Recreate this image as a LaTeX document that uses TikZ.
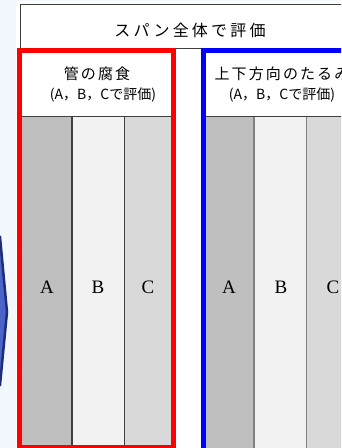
\documentclass[tikz,border=0pt]{standalone}
\usepackage{fontspec}
\newfontfamily\jptop[LetterSpace=20]{Noto Sans CJK JP}
\newfontfamily\jptitle[LetterSpace=14]{Noto Sans CJK JP}
\newfontfamily\jpsub{Noto Sans CJK JP}
\newfontfamily\latinserif{Liberation Serif}
\definecolor{bgblue}{HTML}{F3F8FE}
\definecolor{colA}{HTML}{BFBFBF}
\definecolor{colB}{HTML}{F2F2F2}
\definecolor{colC}{HTML}{D9D9D9}
\definecolor{frame}{HTML}{404040}
\definecolor{chevfill}{HTML}{4A64C8}
\definecolor{chevedge}{HTML}{1F2C78}
\tikzset{
  colbox/.style={rectangle, draw=none, inner sep=0pt, anchor=north west, minimum height=332pt},
  letter/.style={font=\latinserif\fontsize{19}{19}\selectfont, inner sep=0pt},
  toptext/.style={font=\jptop\fontsize{16}{16}\selectfont, inner sep=0pt},
  titletext/.style={font=\jptitle\fontsize{15}{15}\selectfont, inner sep=0pt},
  subtext/.style={font=\jpsub\fontsize{14}{14}\selectfont, inner sep=0pt},
  sepline/.style={line width=1.2pt},
}
\begin{document}
\begin{tikzpicture}[x=1pt,y=-1pt]
\useasboundingbox (0,0) rectangle (341,448);
\clip (0,0) rectangle (341,448);
% background
\fill[bgblue] (0,0) rectangle (341,448);
\fill[white] (16,1) rectangle (345,450);
% chevron tip at the left
\draw[fill=chevfill, draw=chevedge, line width=2.5pt, line join=miter]
  (-20,225) -- (0,237) -- (7,312) -- (0,385) -- (-20,397) -- cycle;
% outer box
\draw[frame, line width=1pt] (20,48) -- (20,4) -- (350,4);
\draw[frame, line width=1pt] (20,48) -- (350,48);
\node[toptext] (top) at (190,30) {スパン全体で評価};
% ---------- red group ----------
\fill[white] (19.5,50) rectangle (173,447);
\node[colbox, fill=colA, minimum width=49.5pt] (rA) at (22,116) {};
\node[colbox, fill=colB, minimum width=52pt] (rB) at (rA.north east) {};
\node[colbox, fill=colC, minimum width=48pt] (rC) at (rB.north east) {};
\draw[frame, sepline] (rA.north east) -- (rA.south east);
\draw[frame, sepline] (rB.north east) -- (rB.south east);
\draw[frame, line width=1pt] (rA.north west) -- (rC.north east);
\node[letter] (ra) at (47,287) {A};
\node[letter] (rb) at (98,287) {B};
\node[letter] (rc) at (148,287) {C};
\node[titletext] (rt1) at (97,74) {管の腐食};
\node[subtext] (rt2) at (103,95) {(A，B，Cで評価)};
\draw[red, line width=5pt] (19.5,50) rectangle (173,447);
% ---------- blue group ----------
\fill[white] (203,50.5) rectangle (362,452);
\node[colbox, fill=colA, minimum width=48pt, minimum height=340pt] (bA) at (205.5,116) {};
\node[colbox, fill=colB, minimum width=52.5pt, minimum height=340pt] (bB) at (bA.north east) {};
\node[colbox, fill=colC, minimum width=52pt, minimum height=340pt] (bC) at (bB.north east) {};
\draw[gray, sepline] (bA.north east) -- (bA.south east);
\draw[gray, sepline] (bB.north east) -- (bB.south east);
\draw[frame, line width=1pt] (bA.north west) -- (bC.north east);
\node[letter] (ba) at (229,287) {A};
\node[letter] (bb) at (281,287) {B};
\node[letter] (bc) at (333,287) {C};
\node[titletext] (bt1) at (282,74) {上下方向のたるみ};
\node[subtext] (bt2) at (282,95) {(A，B，Cで評価)};
\draw[blue, line width=5pt] (203,50.5) rectangle (362,452);
\end{tikzpicture}
\end{document}
